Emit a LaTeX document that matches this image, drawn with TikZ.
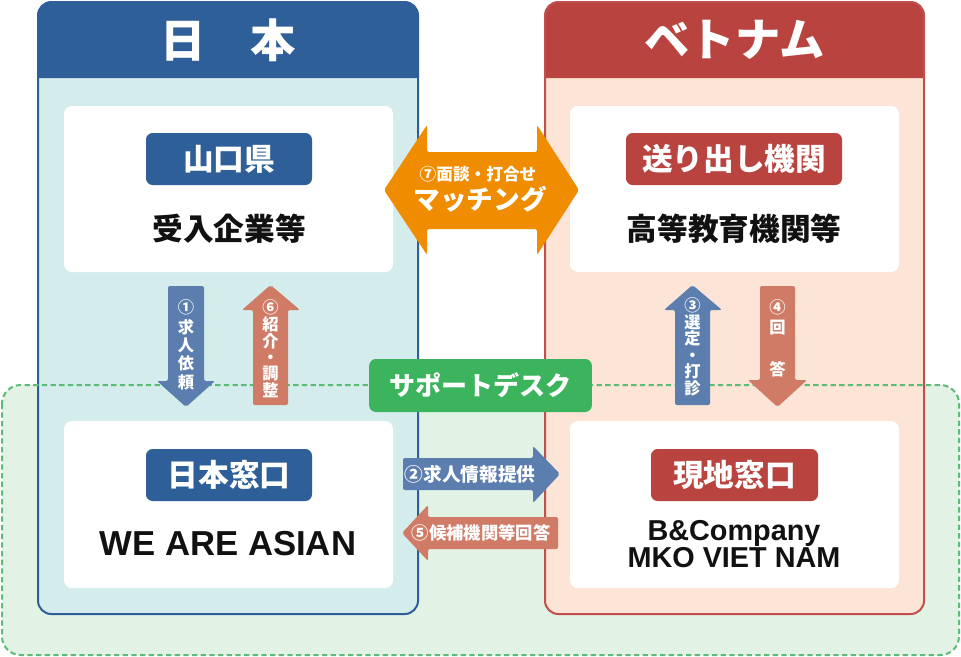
\documentclass[tikz,border=0pt]{standalone}
\usepackage{fontspec}
\setmainfont{Noto Sans CJK JP}
\newfontfamily\lat{Liberation Sans}
\newcommand\myvfont{\bfseries\fontsize{12.2}{0pt}\selectfont\lineskiplimit-50pt\relax\lineskip0pt\relax}
\definecolor{hblue}{HTML}{2F5F98}
\definecolor{pblue}{HTML}{D4ECEC}
\definecolor{hred}{HTML}{B9443F}
\definecolor{pred}{HTML}{FCE4D7}
\definecolor{bred}{HTML}{C0504D}
\definecolor{ablue}{HTML}{5B7EAF}
\definecolor{asal}{HTML}{CF7B66}
\definecolor{aorange}{HTML}{F08C00}
\definecolor{sgreen}{HTML}{3CB35D}
\definecolor{gfill}{HTML}{E2F2E5}
\definecolor{gdash}{HTML}{5CBB77}
\definecolor{txt}{HTML}{111111}
\begin{document}
\begin{tikzpicture}[x=0.75pt,y=-0.75pt,
  whitebox/.style={fill=white,rounded corners=6},
  labelbox/.style={rounded corners=5,minimum width=#1*0.75pt,minimum height=39pt,inner sep=0pt,text=white,font=\bfseries\fontsize{23}{26}\selectfont},
  bodytext/.style={text=txt,font=\bfseries\fontsize{23}{26}\selectfont},
  hdrtext/.style={text=white,font=\bfseries\fontsize{34}{38}\selectfont},
  vcol/.style={text=white,font=\myvfont,inner sep=0pt,anchor=north,align=center},
  htext/.style={text=white,font=\bfseries\fontsize{14}{16}\selectfont,inner sep=0pt},
  fatarrow/.style={rounded corners=1.5}
]
\useasboundingbox (0,0) rectangle (961,657);
% green support region fill
\fill[gfill,rounded corners=14] (2,385) rectangle (959,655);
% left panel
\fill[pblue,rounded corners=10] (38,2) rectangle (418,614);
\fill[hblue] (38,78) {[rounded corners=10] -- (38,2) -- (418,2)} -- (418,78) -- cycle;
\draw[hblue,line width=1.5,rounded corners=10] (38,2) rectangle (418,614);
% right panel
\fill[pred,rounded corners=10] (545,2) rectangle (924,614);
\fill[hred] (545,78) {[rounded corners=10] -- (545,2) -- (924,2)} -- (924,78) -- cycle;
\draw[bred,line width=1.5,rounded corners=10] (545,2) rectangle (924,614);
% dashed border of support region
\draw[gdash,line width=1.5,dash pattern=on 4 off 2.5,rounded corners=14] (2,385) rectangle (959,655);
% headers
\node[hdrtext] (hjp) at (228,40) {日　本};
\node[hdrtext] (hvn) at (734.5,40) {ベトナム};
% white boxes
\fill[whitebox] (64,106) rectangle (393,272);
\fill[whitebox] (64,421) rectangle (393,588);
\fill[whitebox] (570,106) rectangle (899,272);
\fill[whitebox] (570,421) rectangle (899,588);
% labels
\node[labelbox=166,fill=hblue] (yam) at (229,159) {山口県};
\node[bodytext] (uke) at (229,229) {受入企業等};
\node[labelbox=166,fill=hblue] (jwin) at (229,475) {日本窓口};
\node[text=txt,font=\lat\bfseries\fontsize{26}{30}\selectfont] (wea) at (228,544) {WE ARE ASIAN};
\node[labelbox=216,fill=hred] (okuri) at (734,159) {送り出し機関};
\node[bodytext] (koto) at (734,229) {高等教育機関等};
\node[labelbox=167,fill=hred] (gen) at (734.5,475) {現地窓口};
\node[text=txt,font=\lat\bfseries\fontsize{21.6}{20.25}\selectfont,align=center] (bco) at (734,544) {B\&Company\\MKO VIET NAM};
% vertical arrows
\fill[ablue,fatarrow] (168,286) -- (204,286) -- (204,381) -- (215,381) -- (186,407) -- (157,381) -- (168,381) -- cycle;
\fill[asal,fatarrow] (253,405) -- (288,405) -- (288,310) -- (300,310) -- (270.5,285) -- (242,310) -- (253,310) -- cycle;
\fill[ablue,fatarrow] (675,405) -- (710,405) -- (710,310) -- (722,310) -- (692.5,285) -- (664,310) -- (675,310) -- cycle;
\fill[asal,fatarrow] (760,286) -- (795,286) -- (795,380) -- (807,380) -- (777.5,407) -- (748,380) -- (760,380) -- cycle;
\node[vcol] (va) at (186,295.9) {\rule{0pt}{13pt}①\\[15pt]求\\[13.5pt]人\\[13.5pt]依\\[14.25pt]頼};
\node[vcol] (vf) at (270.5,295.9) {\rule{0pt}{13pt}⑥\\[12.75pt]紹\\[12.75pt]介\\[12pt]・\\[12pt]調\\[12.75pt]整};
\node[vcol] (vc) at (692.5,293.9) {\rule{0pt}{13pt}③\\[12.4pt]選\\[12.4pt]定\\[12.4pt]・\\[12.4pt]打\\[12.4pt]診};
\node[vcol] (vd) at (777.5,295.9) {\rule{0pt}{13pt}④\\[15pt]回\\[31.5pt]答};
% horizontal arrows
\fill[ablue,fatarrow] (403,458) -- (533,458) -- (533,446) -- (560,474) -- (533,503) -- (533,490) -- (403,490) -- cycle;
\fill[asal,fatarrow] (558,517) -- (428,517) -- (428,505) -- (402,533) -- (428,561) -- (428,549) -- (558,549) -- cycle;
\node[htext] (t2) at (470,474) {②求人情報提供};
\node[htext,font=\bfseries\fontsize{13}{15}\selectfont] (t5) at (481,533) {⑤候補機関等回答};
% double arrow (matching)
\fill[aorange,fatarrow] (384,190) -- (427,125) -- (427,152) -- (537,152) -- (537,125) -- (579,190) -- (537,255) -- (537,229) -- (427,229) -- (427,255) -- cycle;
\node[text=white,font=\bfseries\fontsize{12.5}{14}\selectfont,inner sep=0pt] (t7a) at (478,174) {⑦面談・打合せ};
\node[text=white,font=\bfseries\fontsize{20}{22}\selectfont,inner sep=0pt] (t7b) at (480,199) {マッチング};
% support desk
\node[fill=sgreen,rounded corners=5,minimum width=167pt,minimum height=39.75pt,inner sep=0pt,text=white,font=\bfseries\fontsize{19.5}{22}\selectfont] (sd) at (480.5,385.5) {サポートデスク};
\end{tikzpicture}
\end{document}
